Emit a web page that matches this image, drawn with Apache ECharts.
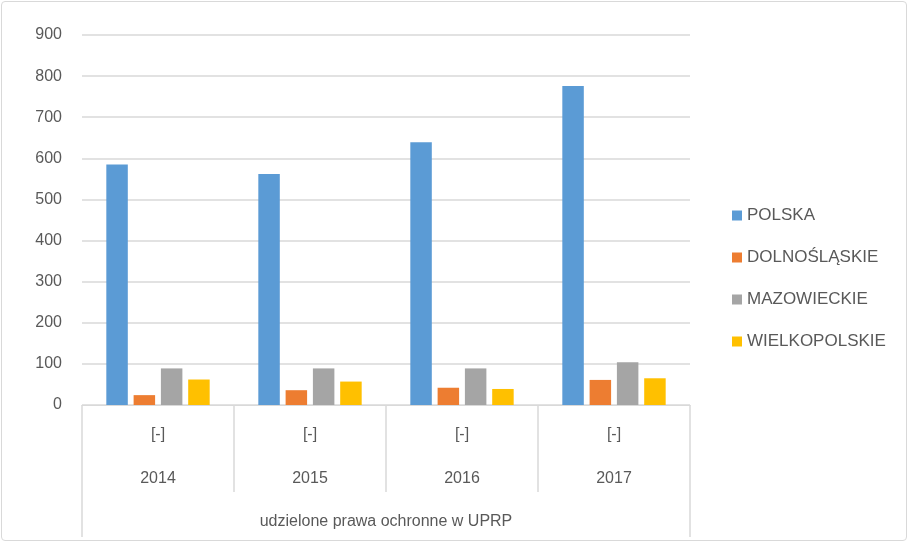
<!DOCTYPE html>
<html>
<head>
<meta charset="utf-8">
<script src="https://cdn.jsdelivr.net/npm/echarts@6/dist/echarts.min.js"></script>
<style>
  html, body { margin: 0; padding: 0; background: #fff; }
  #chart { width: 906px; height: 540px; border: 1px solid #d9d9d9; border-radius: 4px; margin: 1px; box-sizing: border-box; }
</style>
</head>
<body>
<div id="chart"></div>
<script>
// data
const years = ["2014", "2015", "2016", "2017"];
const groupLabel = "udzielone prawa ochronne w UPRP";
const seriesNames = ["POLSKA", "DOLNOŚLĄSKIE", "MAZOWIECKIE", "WIELKOPOLSKIE"];
const polska = [585, 562, 639, 776];
const dolnoslaskie = [24, 36, 42, 61];
const mazowieckie = [89, 89, 89, 104];
const wielkopolskie = [62, 57, 39, 65];
const colors = ["#5b9bd5", "#ed7d31", "#a5a5a5", "#ffc000"];

const textColor = "#595959";
const lineColor = "#d9d9d9";
const font = "'Liberation Sans', Arial, sans-serif";

const chart = echarts.init(document.getElementById("chart"));

const values = [polska, dolnoslaskie, mazowieckie, wielkopolskie];

chart.setOption({
  animation: false,
  textStyle: { fontFamily: font },
  grid: { left: 80, top: 33, right: 216, bottom: 135 },
  legend: {
    orient: "vertical",
    left: 725,
    top: 200,
    itemWidth: 10,
    itemHeight: 10,
    itemGap: 25,
    icon: "rect",
    textStyle: { color: textColor, fontSize: 17, fontFamily: font },
    data: seriesNames
  },
  xAxis: [
    {
      type: "category",
      data: years,
      axisLine: { lineStyle: { color: lineColor, width: 1 } },
      axisTick: { show: true, interval: 0, length: 87, lineStyle: { color: lineColor, width: 1.5 } },
      axisLabel: {
        interval: 0,
        margin: 8,
        formatter: (v) => "{a|[-]}\n{a|" + v + "}",
        rich: { a: { color: textColor, fontSize: 16, lineHeight: 44, fontFamily: font } }
      }
    },
    {
      type: "category",
      position: "bottom",
      data: [groupLabel],
      axisLine: { show: false },
      axisTick: { show: true, interval: 0, length: 132, lineStyle: { color: lineColor, width: 1.5 } },
      axisLabel: { color: textColor, fontSize: 16, margin: 109, fontFamily: font }
    }
  ],
  yAxis: {
    type: "value",
    min: 0,
    max: 900,
    interval: 100,
    axisLine: { show: false },
    axisTick: { show: false },
    axisLabel: { color: textColor, fontSize: 16, margin: 20, fontFamily: font },
    splitLine: { lineStyle: { color: lineColor, width: 1.5 } }
  },
  series: seriesNames.map((name, i) => ({
    name: name,
    type: "bar",
    xAxisIndex: 0,
    data: values[i],
    itemStyle: { color: colors[i] },
    barGap: "27%",
    barCategoryGap: "32%"
  }))
});
</script>
</body>
</html>
